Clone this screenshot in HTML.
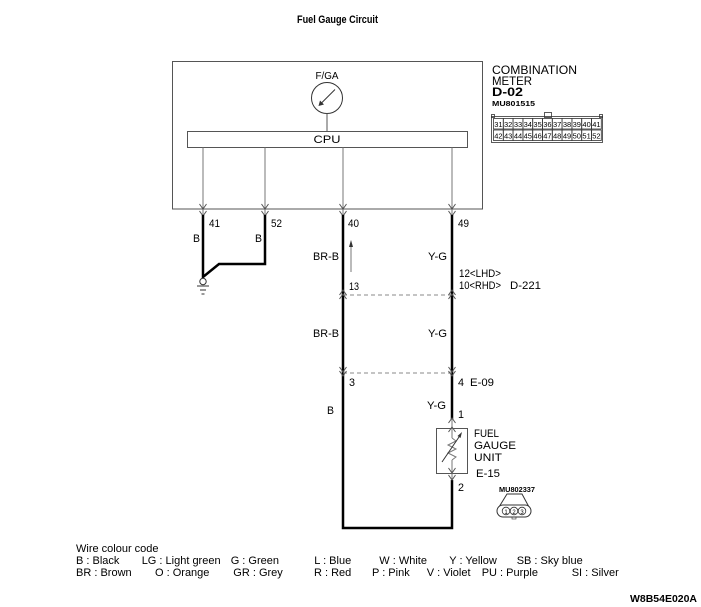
<!DOCTYPE html>
<html><head><meta charset="utf-8"><style>
html,body{margin:0;padding:0;background:#fff;}
svg{display:block;}
text{font-family:"Liberation Sans",sans-serif;fill:#000;}
.l{font-size:11px;}
.g{stroke:#777;stroke-width:1;fill:none;}
.w{stroke:#000;stroke-width:2.5;fill:none;}
.c{stroke:#555;stroke-width:1;fill:none;}
.lg{font-size:11px;}
</style></head><body>
<svg width="701" height="607" viewBox="0 0 701 607" xmlns="http://www.w3.org/2000/svg">
<!-- title -->
<text x="297" y="23" font-size="11" font-weight="bold" textLength="81" lengthAdjust="spacingAndGlyphs">Fuel Gauge Circuit</text>

<!-- meter box -->
<rect x="172.5" y="61.5" width="310" height="147.5" fill="none" stroke="#555" stroke-width="1"/>
<text x="327" y="79" font-size="10" text-anchor="middle" textLength="23" lengthAdjust="spacingAndGlyphs">F/GA</text>
<circle cx="327" cy="98" r="15.5" fill="none" stroke="#333" stroke-width="1"/>
<line x1="335" y1="89.5" x2="321" y2="103.5" stroke="#333" stroke-width="1"/>
<polygon points="318.5,106 320,100.5 324,104.5" fill="#333"/>
<line x1="327" y1="113.5" x2="327" y2="131" stroke="#555" stroke-width="1"/>
<rect x="187.5" y="131.5" width="280" height="16" fill="none" stroke="#555" stroke-width="1"/>
<text x="327" y="143" font-size="11" text-anchor="middle" textLength="27" lengthAdjust="spacingAndGlyphs">CPU</text>

<!-- grey internal lines -->
<line class="g" x1="203" y1="147.5" x2="203" y2="216"/>
<line class="g" x1="265" y1="147.5" x2="265" y2="216"/>
<line class="g" x1="343" y1="147.5" x2="343" y2="216"/>
<line class="g" x1="452" y1="147.5" x2="452" y2="216"/>

<!-- chevrons at box boundary -->
<g class="c">
<polyline points="199.5,204 203,209 206.5,204"/><polyline points="199.5,211 203,216 206.5,211"/>
<polyline points="261.5,204 265,209 268.5,204"/><polyline points="261.5,211 265,216 268.5,211"/>
<polyline points="339.5,204 343,209 346.5,204"/><polyline points="339.5,211 343,216 346.5,211"/>
<polyline points="448.5,204 452,209 455.5,204"/><polyline points="448.5,211 452,216 455.5,211"/>
</g>

<!-- pin numbers -->
<text class="l" x="209" y="227" textLength="11" lengthAdjust="spacingAndGlyphs">41</text>
<text class="l" x="271" y="227" textLength="11" lengthAdjust="spacingAndGlyphs">52</text>
<text class="l" x="348" y="227" textLength="11" lengthAdjust="spacingAndGlyphs">40</text>
<text class="l" x="458" y="227" textLength="11" lengthAdjust="spacingAndGlyphs">49</text>

<!-- ground wires -->
<polyline class="w" points="203,215 203,277 219,264 265,264 265,215"/>
<text class="l" x="193" y="242" textLength="7" lengthAdjust="spacingAndGlyphs">B</text>
<text class="l" x="255" y="242" textLength="7" lengthAdjust="spacingAndGlyphs">B</text>
<circle cx="203" cy="281.5" r="3.2" fill="#fff" stroke="#333" stroke-width="1"/>
<line x1="197" y1="286" x2="209" y2="286" stroke="#333" stroke-width="1"/>
<line x1="200" y1="290" x2="206" y2="290" stroke="#333" stroke-width="1"/>
<line x1="201.5" y1="294" x2="204.5" y2="294" stroke="#333" stroke-width="1"/>

<!-- main wires -->
<polyline class="w" points="343,215 343,528 452,528 452,480"/>
<line class="w" x1="452" y1="215" x2="452" y2="419"/>

<!-- BR-B / Y-G labels upper -->
<text class="l" x="313" y="260" textLength="26" lengthAdjust="spacingAndGlyphs">BR-B</text>
<text class="l" x="428" y="260" textLength="19" lengthAdjust="spacingAndGlyphs">Y-G</text>
<line x1="351" y1="272" x2="351" y2="245" stroke="#777" stroke-width="1"/>
<polygon points="351,240 349,247 353,247" fill="#333"/>

<!-- D-221 -->
<text class="l" x="459" y="277" textLength="42" lengthAdjust="spacingAndGlyphs">12&lt;LHD&gt;</text>
<text class="l" x="459" y="289" textLength="42" lengthAdjust="spacingAndGlyphs">10&lt;RHD&gt;</text>
<text class="l" x="510" y="289" textLength="31" lengthAdjust="spacingAndGlyphs">D-221</text>
<text class="l" x="349" y="290" textLength="10" lengthAdjust="spacingAndGlyphs">13</text>
<line x1="343" y1="295" x2="452" y2="295" stroke="#888" stroke-width="1" stroke-dasharray="4,3"/>
<g class="c">
<polyline points="339.5,295 343,290 346.5,295"/><polyline points="339.5,299 343,294 346.5,299"/>
<polyline points="448.5,295 452,290 455.5,295"/><polyline points="448.5,299 452,294 455.5,299"/>
</g>

<!-- middle labels -->
<text class="l" x="313" y="337" textLength="26" lengthAdjust="spacingAndGlyphs">BR-B</text>
<text class="l" x="428" y="337" textLength="19" lengthAdjust="spacingAndGlyphs">Y-G</text>

<!-- E-09 -->
<line x1="343" y1="373" x2="452" y2="373" stroke="#888" stroke-width="1" stroke-dasharray="4,3"/>
<g class="c">
<polyline points="339.5,367 343,372 346.5,367"/><polyline points="339.5,371 343,376 346.5,371"/>
<polyline points="448.5,367 452,372 455.5,367"/><polyline points="448.5,371 452,376 455.5,371"/>
</g>
<text class="l" x="349" y="386" textLength="6" lengthAdjust="spacingAndGlyphs">3</text>
<text class="l" x="458" y="386" textLength="6" lengthAdjust="spacingAndGlyphs">4</text>
<text class="l" x="470" y="386" textLength="24" lengthAdjust="spacingAndGlyphs">E-09</text>

<text class="l" x="327" y="414" textLength="7" lengthAdjust="spacingAndGlyphs">B</text>
<text class="l" x="427" y="409" textLength="19" lengthAdjust="spacingAndGlyphs">Y-G</text>
<text class="l" x="458" y="418" textLength="6" lengthAdjust="spacingAndGlyphs">1</text>

<!-- fuel gauge unit -->
<rect x="436.5" y="428.5" width="31" height="45" fill="none" stroke="#555" stroke-width="1"/>
<line class="g" x1="452" y1="418" x2="452" y2="438"/>
<polyline class="g" points="452,438 456,441 448,445 456,449 448,453 456,457 452,460"/>
<line class="g" x1="452" y1="460" x2="452" y2="480"/>
<line x1="442" y1="462" x2="459" y2="437" stroke="#333" stroke-width="1"/>
<polygon points="462,432 457.5,436 460.5,438" fill="#333"/>
<g class="c">
<polyline points="448.5,423 452,418 455.5,423"/><polyline points="448.5,432 452,427 455.5,432"/>
<polyline points="448.5,468 452,473 455.5,468"/><polyline points="448.5,475 452,480 455.5,475"/>
</g>
<text class="l" x="474" y="437" textLength="25" lengthAdjust="spacingAndGlyphs">FUEL</text>
<text class="l" x="474" y="449" textLength="42" lengthAdjust="spacingAndGlyphs">GAUGE</text>
<text class="l" x="474" y="461" textLength="28" lengthAdjust="spacingAndGlyphs">UNIT</text>
<text class="l" x="476" y="477" textLength="24" lengthAdjust="spacingAndGlyphs">E-15</text>
<text class="l" x="458" y="491" textLength="6" lengthAdjust="spacingAndGlyphs">2</text>

<!-- connector icon MU802337 -->
<text x="499" y="492" font-size="7" font-weight="bold" textLength="36" lengthAdjust="spacingAndGlyphs">MU802337</text>
<polyline points="499,507 507,494 522,494 529,507" fill="none" stroke="#333" stroke-width="1"/>
<rect x="497" y="505" width="34" height="12" rx="6" fill="#fff" stroke="#333" stroke-width="1"/>
<circle cx="506" cy="511" r="3.8" fill="none" stroke="#333" stroke-width="0.8"/>
<circle cx="514" cy="511" r="3.8" fill="none" stroke="#333" stroke-width="0.8"/>
<circle cx="522" cy="511" r="3.8" fill="none" stroke="#333" stroke-width="0.8"/>
<text x="506" y="514" font-size="6" text-anchor="middle">1</text>
<text x="514" y="514" font-size="6" text-anchor="middle">2</text>
<text x="522" y="514" font-size="6" text-anchor="middle">3</text>
<rect x="512" y="517" width="4" height="2" fill="none" stroke="#333" stroke-width="0.6"/>

<!-- combination meter label -->
<text x="492" y="74" font-size="12" textLength="85" lengthAdjust="spacingAndGlyphs">COMBINATION</text>
<text x="492" y="85" font-size="12" textLength="40" lengthAdjust="spacingAndGlyphs">METER</text>
<text x="492" y="96" font-size="12" font-weight="bold" textLength="31" lengthAdjust="spacingAndGlyphs">D-02</text>
<text x="492" y="106" font-size="7" font-weight="bold" textLength="43" lengthAdjust="spacingAndGlyphs">MU801515</text>
<g fill="none" stroke="#333" stroke-width="0.8">
<rect x="491.5" y="116.5" width="111" height="26"/>
<rect x="491.5" y="114.5" width="3" height="3"/>
<rect x="599.5" y="114.5" width="3" height="3"/>
<rect x="544.5" y="112.5" width="7" height="5"/>
</g>
<g fill="none" stroke="#333" stroke-width="0.8">
<rect x="493.5" y="118.5" width="9.8" height="10.5"/><rect x="503.3" y="118.5" width="9.8" height="10.5"/><rect x="513.1" y="118.5" width="9.8" height="10.5"/><rect x="522.9" y="118.5" width="9.8" height="10.5"/><rect x="532.7" y="118.5" width="9.8" height="10.5"/><rect x="542.5" y="118.5" width="9.8" height="10.5"/><rect x="552.3" y="118.5" width="9.8" height="10.5"/><rect x="562.1" y="118.5" width="9.8" height="10.5"/><rect x="571.9" y="118.5" width="9.8" height="10.5"/><rect x="581.7" y="118.5" width="9.8" height="10.5"/><rect x="591.5" y="118.5" width="9.8" height="10.5"/>
<rect x="493.5" y="130" width="9.8" height="10.5"/><rect x="503.3" y="130" width="9.8" height="10.5"/><rect x="513.1" y="130" width="9.8" height="10.5"/><rect x="522.9" y="130" width="9.8" height="10.5"/><rect x="532.7" y="130" width="9.8" height="10.5"/><rect x="542.5" y="130" width="9.8" height="10.5"/><rect x="552.3" y="130" width="9.8" height="10.5"/><rect x="562.1" y="130" width="9.8" height="10.5"/><rect x="571.9" y="130" width="9.8" height="10.5"/><rect x="581.7" y="130" width="9.8" height="10.5"/><rect x="591.5" y="130" width="9.8" height="10.5"/>
</g>
<g font-size="7.5" text-anchor="middle">
<text x="498.4" y="127">31</text><text x="508.2" y="127">32</text><text x="518" y="127">33</text><text x="527.8" y="127">34</text><text x="537.6" y="127">35</text><text x="547.4" y="127">36</text><text x="557.2" y="127">37</text><text x="567" y="127">38</text><text x="576.8" y="127">39</text><text x="586.6" y="127">40</text><text x="596.4" y="127">41</text>
<text x="498.4" y="138.5">42</text><text x="508.2" y="138.5">43</text><text x="518" y="138.5">44</text><text x="527.8" y="138.5">45</text><text x="537.6" y="138.5">46</text><text x="547.4" y="138.5">47</text><text x="557.2" y="138.5">48</text><text x="567" y="138.5">49</text><text x="576.8" y="138.5">50</text><text x="586.6" y="138.5">51</text><text x="596.4" y="138.5">52</text>
</g>

<!-- legend -->
<g class="lg">
<text x="76" y="552" font-size="11">Wire colour code</text>
<text x="76" y="564" font-size="11">B : Black</text>
<text x="141.7" y="564" font-size="11">LG : Light green</text>
<text x="230.7" y="564" font-size="11">G : Green</text>
<text x="314.3" y="564" font-size="11">L : Blue</text>
<text x="379.3" y="564" font-size="11">W : White</text>
<text x="449.3" y="564" font-size="11">Y : Yellow</text>
<text x="516.7" y="564" font-size="11">SB : Sky blue</text>
<text x="76" y="576" font-size="11">BR : Brown</text>
<text x="155" y="576" font-size="11">O : Orange</text>
<text x="233.3" y="576" font-size="11">GR : Grey</text>
<text x="314" y="576" font-size="11">R : Red</text>
<text x="372" y="576" font-size="11">P : Pink</text>
<text x="426.7" y="576" font-size="11">V : Violet</text>
<text x="481.7" y="576" font-size="11">PU : Purple</text>
<text x="571.7" y="576" font-size="11">SI : Silver</text>
</g>
<text x="630" y="602" font-size="10" font-weight="bold" textLength="67" lengthAdjust="spacingAndGlyphs">W8B54E020A</text>
</svg>
</body></html>
